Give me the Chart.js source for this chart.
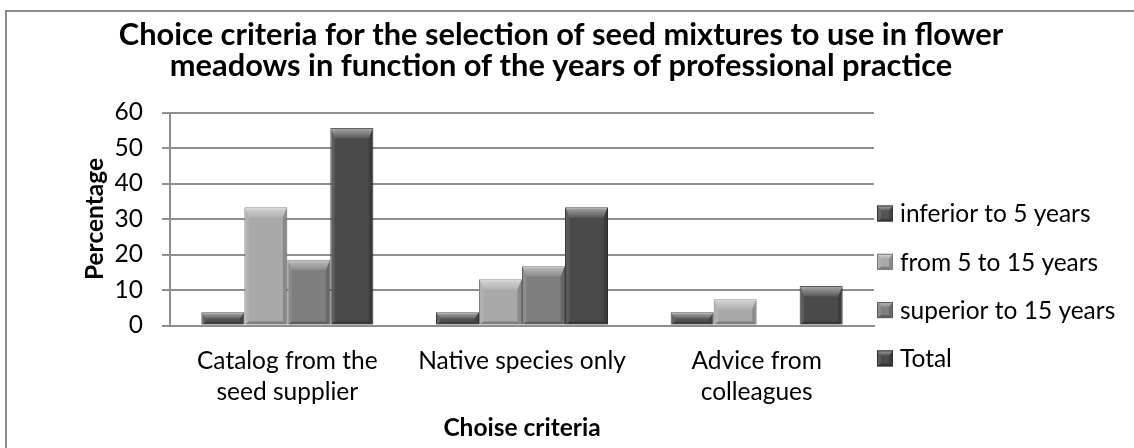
<!DOCTYPE html>
<html>
<head>
<meta charset="utf-8">
<script src="https://cdn.jsdelivr.net/npm/chart.js@4.4.1/dist/chart.umd.min.js"></script>
<style>
html,body{margin:0;padding:0;background:#fff;overflow:hidden;}
#wrap{position:relative;width:1134px;height:448px;overflow:hidden;}
#frame{position:absolute;left:5px;top:10px;width:1200px;height:500px;border-left:2px solid #8c8c8c;border-top:2px solid #8c8c8c;pointer-events:none;}
</style>
</head>
<body>
<div id="wrap"><canvas id="c"></canvas><div id="frame"></div></div>
<script>
// ---- data ----
const titleLines = ["Choice criteria for the selection of seed mixtures to use in flower",
                    "meadows in function of the years of professional practice"];
const categories = [["Catalog from the", "seed supplier"], "Native species only", ["Advice from", "colleagues"]];
const seriesNames = ["inferior to 5 years", "from 5 to 15 years", "superior to 15 years", "Total"];
const inferior5 = [3.7, 3.7, 3.7];
const from5to15 = [33.3, 13.0, 7.4];
const superior15 = [18.5, 16.7, 0];
const total = [55.6, 33.3, 11.1];
const yTicks = [0, 10, 20, 30, 40, 50, 60];
const yTitle = "Percentage";
const xTitle = "Choise criteria";

// ---- styles ----
const fills = ['#535353', '#a9a9a9', '#7f7f7f', '#4a4a4a'];
const edges = ['#363636', '#7a7a7a', '#5a5a5a', '#303030'];
const gridCol = '#8e8e8e';
const FONT = 'Lato, "DejaVu Sans", sans-serif';

Chart.defaults.font.family = FONT;
Chart.defaults.color = '#000';

function trap(ctx, pts, style) {
  ctx.fillStyle = style;
  ctx.beginPath();
  ctx.moveTo(pts[0][0], pts[0][1]);
  for (let k = 1; k < pts.length; k++) ctx.lineTo(pts[k][0], pts[k][1]);
  ctx.closePath();
  ctx.fill();
}

function drawBevel(ctx, l, r, y, base, maxTop) {
  const h = base - y;
  if (h <= 0.5) return;
  const bt = Math.min(maxTop, h / 2), bs = Math.min(4, h / 3, (r - l) / 4), bb = Math.min(3, h / 3);
  const g = ctx.createLinearGradient(0, y, 0, y + bt);
  g.addColorStop(0, 'rgba(255,255,255,0.5)');
  g.addColorStop(1, 'rgba(255,255,255,0.08)');
  trap(ctx, [[l, y], [r, y], [r - bs, y + bt], [l + bs, y + bt]], g);
  trap(ctx, [[l, y], [l + bs, y + bt], [l + bs, base - bb], [l, base]], 'rgba(255,255,255,0.10)');
  trap(ctx, [[r, y], [r - bs, y + bt], [r - bs, base - bb], [r, base]], 'rgba(0,0,0,0.18)');
  trap(ctx, [[l, base], [l + bs, base - bb], [r - bs, base - bb], [r, base]], 'rgba(0,0,0,0.25)');
}

const bevelPlugin = {
  id: 'bevel',
  afterDatasetsDraw(chart) {
    const ctx = chart.ctx;
    ctx.save();
    chart.data.datasets.forEach((ds, i) => {
      const meta = chart.getDatasetMeta(i);
      meta.data.forEach(el => {
        const p = el.getProps(['x', 'y', 'base', 'width'], true);
        drawBevel(ctx, p.x - p.width / 2 + 0.5, p.x + p.width / 2 - 0.5, p.y + 0.5, p.base, 10);
      });
    });
    ctx.restore();
  }
};

const sideLegend = {
  id: 'sideLegend',
  afterDraw(chart) {
    const {ctx, chartArea} = chart;
    ctx.save();
    ctx.font = '24.5px ' + FONT;
    ctx.textBaseline = 'middle';
    ctx.textAlign = 'left';
    chart.data.datasets.forEach((ds, i) => {
      const cy = chartArea.bottom - 112 + i * 48.3;
      const bx = chartArea.right + 3;
      ctx.fillStyle = ds.backgroundColor;
      ctx.fillRect(bx, cy - 8, 16, 16);
      drawBevel(ctx, bx, bx + 16, cy - 8, cy + 8, 5);
      ctx.strokeStyle = ds.borderColor;
      ctx.lineWidth = 1;
      ctx.strokeRect(bx + 0.5, cy - 7.5, 15, 15);
      ctx.fillStyle = '#000';
      ctx.fillText(ds.label, bx + 23, cy + 1);
    });
    ctx.restore();
  }
};

const seriesValues = [inferior5, from5to15, superior15, total];

new Chart(document.getElementById('c'), {
  type: 'bar',
  data: {
    labels: categories,
    datasets: seriesNames.map((name, i) => ({
      label: name,
      data: seriesValues[i],
      backgroundColor: fills[i],
      borderColor: edges[i],
      borderWidth: 1,
      categoryPercentage: 0.733,
      barPercentage: 1.0
    }))
  },
  options: {
    responsive: true,
    maintainAspectRatio: false,
    animation: false,
    layout: { padding: { left: 0, right: 12, top: 0, bottom: 5 } },
    plugins: {
      legend: { display: false },
      tooltip: { enabled: false },
      title: {
        display: true,
        text: titleLines,
        color: '#000',
        font: { size: 30.8, weight: 'bold', lineHeight: 31 / 30.8 },
        padding: { top: 19.5, bottom: 31 }
      }
    },
    scales: {
      x: {
        grid: { display: false, drawTicks: false },
        border: { display: true, color: gridCol, width: 2 },
        ticks: { color: '#000', padding: 20, font: { size: 24.5, lineHeight: 31 / 24.5 }, maxRotation: 0, autoSkip: false },
        title: { display: true, text: xTitle, color: '#000', font: { size: 24.5, weight: 'bold', lineHeight: 1.2 }, padding: { top: 8, bottom: 0 } },
        afterFit: s => { s.height = 117.5; }
      },
      y: {
        min: 0,
        max: 60,
        afterBuildTicks: s => { s.ticks = yTicks.map(v => ({ value: v })); },
        grid: { color: gridCol, lineWidth: 2, drawTicks: true, tickLength: 8, tickColor: gridCol },
        border: { display: true, color: gridCol, width: 2 },
        ticks: { color: '#000', padding: 19, font: { size: 24.5, lineHeight: 1.2 } },
        title: { display: true, text: yTitle, color: '#000', font: { size: 24.5, weight: 'bold', lineHeight: 1.2 }, padding: { top: 80.3, bottom: 0 } },
        afterFit: s => { s.width = 170; }
      },
      yR: {
        type: 'linear',
        position: 'right',
        display: true,
        grid: { display: false, drawTicks: false },
        border: { display: false },
        ticks: { display: false },
        afterFit: s => { s.width = 248; }
      }
    }
  },
  plugins: [bevelPlugin, sideLegend]
});
</script>
</body>
</html>
